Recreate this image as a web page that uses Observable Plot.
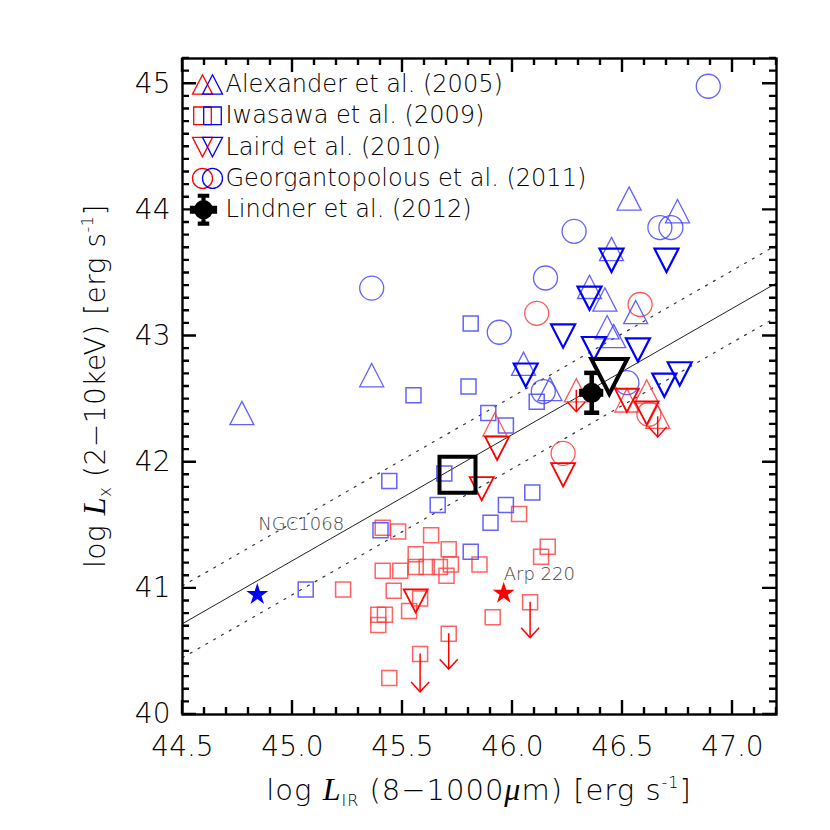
<!DOCTYPE html>
<html><head><meta charset="utf-8">
<script src="https://cdn.jsdelivr.net/npm/d3@7"></script>
<script src="https://cdn.jsdelivr.net/npm/@observablehq/plot@0.6"></script>
<style>
body{margin:0;background:#fff;}
#chart{width:830px;height:830px;}
</style></head><body><div id="chart"></div>
<script>
// ---------- data ----------
const alexBlueX = [44.77,45.36,46.53,46.75,46.45,46.35,46.42,46.56,46.43,46.46,46.05,46.17];
const alexBlueY = [42.39,42.69,44.09,43.99,43.69,43.39,43.29,43.19,43.07,43.00,42.78,42.58];
const alexRedX = [45.92,46.29,46.52,46.61,46.66];
const alexRedY = [42.30,42.57,42.49,42.56,42.36];
const iwaBlueX = [45.81,45.55,45.80,45.89,45.97,46.11,45.69,45.44,45.66,45.97,46.09,45.90,45.40,45.81,45.06];
const iwaBlueY = [43.10,42.53,42.60,42.39,42.29,42.48,41.91,41.85,41.66,41.66,41.76,41.52,41.46,41.29,40.99];
const iwaRedX = [46.03,46.16,46.13,45.41,45.48,45.63,45.71,45.56,45.41,45.49,45.56,45.61,45.67,45.72,45.70,45.85,45.23,45.46,45.58,45.53,45.39,45.42,45.39,46.08,45.91,45.71,45.58,45.44];
const iwaRedY = [41.59,41.33,41.25,41.48,41.45,41.42,41.31,41.27,41.14,41.14,41.17,41.17,41.17,41.19,41.10,41.19,40.99,40.98,40.92,40.82,40.79,40.79,40.71,40.89,40.77,40.64,40.48,40.29];
const lairdBlueX = [46.45,46.70,46.35,46.23,46.37,46.57,46.06,46.69,46.76];
const lairdBlueY = [43.60,43.60,43.30,43.00,42.90,42.89,42.69,42.61,42.70];
const lairdRedX = [45.93,45.86,46.23,46.52,46.61,45.56];
const lairdRedY = [42.11,41.79,41.90,42.49,42.39,40.90];
const georBlueX = [46.89,46.67,46.72,46.28,46.15,45.94,45.36,46.14,46.52];
const georBlueY = [44.98,43.86,43.86,43.83,43.46,43.03,43.38,42.56,42.63];
const georRedX = [46.11,46.58,46.62,46.23];
const georRedY = [43.18,43.25,42.38,42.07];
// upper limits (arrow start, arrow tip)
const limitX = [46.29,46.66,46.08,45.71,45.58];
const limitY = [42.57,42.36,40.89,40.64,40.48];
const limitTipY = [42.40,42.20,40.61,40.36,40.18];
// stacked points
const stackSquareX = [45.75], stackSquareY = [41.90];
const stackTriX = [46.44], stackTriY = [42.68];
// Lindner et al. (2012)
const lindX = [46.36], lindY = [42.55], lindXErr = [0.055], lindYErr = [0.158];
// named sources
const starNames = ["NGC1068", "Arp 220"];
const starX = [44.84, 45.96];
const starY = [40.95, 40.96];
const starColors = ["#0000ff", "#ff0000"];
// relation and its scatter
const fitX = [44.5, 47.2];
const fitY = [40.72, 43.42];
const fitUpperY = [41.02, 43.72];
const fitLowerY = [40.45, 43.15];
// ticks
const xMajor = [44.5, 45.0, 45.5, 46.0, 46.5, 47.0];
const yMajor = [40, 41, 42, 43, 44, 45];
const xMinor = d3.range(445, 473).map(v => v / 10);
const yMinor = d3.range(400, 453).map(v => v / 10);
const legendLabels = ["Alexander et al. (2005)", "Iwasawa et al. (2009)", "Laird et al. (2010)", "Georgantopolous et al. (2011)", "Lindner et al. (2012)"];

// ---------- helpers ----------
const pts = (xs, ys) => xs.map((x, i) => ({x, y: ys[i]}));
const rad = s => Math.sqrt(s / Math.PI);
const SQ = {draw(c, s) { const r = rad(s); c.rect(-r, -r, 2 * r, 2 * r); }};
const TU = {draw(c, s) { const r = rad(s), h = r * 0.97; c.moveTo(0, -h); c.lineTo(r, h); c.lineTo(-r, h); c.closePath(); }};
const TD = {draw(c, s) { const r = rad(s), h = r * 0.97; c.moveTo(-r, -h); c.lineTo(r, -h); c.lineTo(0, h); c.closePath(); }};
const CHEV = {draw(c, s) { const r = rad(s); c.moveTo(-r, -r * 1.1); c.lineTo(0, 0); c.lineTo(r, -r * 1.1); }};
const HBAR = {draw(c, s) { const r = rad(s); c.moveTo(-r, 0); c.lineTo(r, 0); }};
const LIND = {draw(c, s) {
  const r = rad(s);
  c.moveTo(r * 0.6, 0); c.arc(0, 0, r * 0.6, 0, 2 * Math.PI);
  c.rect(-0.13 * r, -r, 0.26 * r, 2 * r);
  c.rect(-0.36 * r, -r, 0.72 * r, 0.26 * r);
  c.rect(-0.36 * r, r - 0.26 * r, 0.72 * r, 0.26 * r);
  c.rect(-0.85 * r, -0.25 * r, 1.7 * r, 0.5 * r);
}};

const RED = "#ff0000", BLUE = "#0000ff";
const RED_L = "#ff3b3b", BLUE_L = "#4646ff";
const FONT = "DejaVu Sans";
const W = 300; // light text weight

const M = {top: 58, right: 54, bottom: 116, left: 182};

const fitRows = fitX.map((x, i) => ({x, y: fitY[i], up: fitUpperY[i], lo: fitLowerY[i]}));
const limits = limitX.map((x, i) => ({x, y: limitY[i], tip: limitTipY[i]}));
const lind = lindX.map((x, i) => ({x, y: lindY[i], xe: lindXErr[i], ye: lindYErr[i]}));
const stars = starNames.map((n, i) => ({name: n, x: starX[i], y: starY[i], c: starColors[i]}));

// ---------- legend marks ----------
const legendSyms = [
  [TU, TU, 10], [SQ, SQ, 8.8], [TD, TD, 10], ["circle", "circle", 10]
];
const LX = 20, LX2 = 30, LT = 43, LY0 = 26, LDY = 31.3;
const legendMarks = [];
legendSyms.forEach(([s1, s2, r], i) => {
  legendMarks.push(Plot.dot([0], {frameAnchor: "top-left", dx: LX, dy: LY0 + i * LDY, symbol: s1, r, stroke: RED, strokeWidth: 1.3, fill: "none"}));
  legendMarks.push(Plot.dot([0], {frameAnchor: "top-left", dx: LX2, dy: LY0 + i * LDY, symbol: s2, r, stroke: BLUE, strokeWidth: 1.3, fill: "none"}));
});
legendMarks.push(Plot.dot([0], {frameAnchor: "top-left", dx: LX + 1, dy: LY0 + 4 * LDY, symbol: LIND, r: 16, fill: "black", stroke: "none"}));
legendLabels.forEach((t, i) => {
  legendMarks.push(Plot.text([t], {frameAnchor: "top-left", dx: LT, dy: LY0 + i * LDY, text: d => d, textAnchor: "start", lineAnchor: "middle", fontSize: 24, fontWeight: W, fill: "black"}));
});

const chart = Plot.plot({
  width: 830, height: 830,
  marginLeft: M.left, marginRight: M.right, marginTop: M.top, marginBottom: M.bottom,
  x: {domain: [44.5, 47.2], axis: null},
  y: {domain: [40, 45.2], axis: null},
  style: {fontFamily: FONT, fontSize: "28px", background: "white", color: "black"},
  marks: [
    // relation
    Plot.line(fitRows, {x: "x", y: "y", stroke: "#222", strokeWidth: 1}),
    Plot.line(fitRows, {x: "x", y: "up", stroke: "#333", strokeWidth: 1.2, strokeDasharray: "2,7"}),
    Plot.line(fitRows, {x: "x", y: "lo", stroke: "#333", strokeWidth: 1.2, strokeDasharray: "2,7"}),
    // samples
    Plot.dot(pts(iwaRedX, iwaRedY), {x: "x", y: "y", symbol: SQ, r: 7.5, stroke: RED_L, strokeOpacity: 0.8, strokeWidth: 1.5, fill: "none"}),
    Plot.dot(pts(iwaBlueX, iwaBlueY), {x: "x", y: "y", symbol: SQ, r: 7.5, stroke: BLUE_L, strokeOpacity: 0.85, strokeWidth: 1.5, fill: "none"}),
    Plot.dot(pts(georRedX, georRedY), {x: "x", y: "y", symbol: "circle", r: 12, stroke: RED_L, strokeOpacity: 0.85, strokeWidth: 1.3, fill: "none"}),
    Plot.dot(pts(georBlueX, georBlueY), {x: "x", y: "y", symbol: "circle", r: 12, stroke: BLUE_L, strokeOpacity: 0.85, strokeWidth: 1.3, fill: "none"}),
    Plot.dot(pts(alexRedX, alexRedY), {x: "x", y: "y", symbol: TU, r: 12, stroke: RED_L, strokeOpacity: 0.85, strokeWidth: 1.3, fill: "none"}),
    Plot.dot(pts(alexBlueX, alexBlueY), {x: "x", y: "y", symbol: TU, r: 12, stroke: BLUE_L, strokeOpacity: 0.85, strokeWidth: 1.3, fill: "none"}),
    Plot.dot(pts(lairdRedX, lairdRedY), {x: "x", y: "y", symbol: TD, r: 12, stroke: RED, strokeWidth: 1.8, fill: "none"}),
    Plot.dot(pts(lairdBlueX, lairdBlueY), {x: "x", y: "y", symbol: TD, r: 12, stroke: BLUE, strokeWidth: 2.2, fill: "none"}),
    // upper limits
    Plot.ruleX(limits, {x: "x", y1: "y", y2: "tip", stroke: RED, strokeWidth: 1.5}),
    Plot.dot(limits, {x: "x", y: "tip", symbol: CHEV, r: 9, stroke: RED, strokeWidth: 1.5, fill: "none"}),
    // named sources
    Plot.dot(stars, {x: "x", y: "y", symbol: "star", r: 6.9, fill: "c", stroke: "none"}),
    Plot.text(stars.slice(0, 1), {x: "x", y: "y", text: "name", dx: 1, dy: -70, textAnchor: "start", fontSize: 18, fontWeight: W, fill: "#444"}),
    Plot.text(stars.slice(1, 2), {x: "x", y: "y", text: "name", dx: 0, dy: -19, textAnchor: "start", fontSize: 18, fontWeight: W, fill: "#444"}),
    // stacks
    Plot.dot(pts(stackSquareX, stackSquareY), {x: "x", y: "y", symbol: SQ, r: 18, stroke: "black", strokeWidth: 4, fill: "none"}),
    Plot.dot(pts(stackTriX, stackTriY), {x: "x", y: "y", symbol: TD, r: 18, stroke: "black", strokeWidth: 4, fill: "none"}),
    // Lindner
    Plot.ruleX(lind, {x: "x", y1: d => d.y - d.ye, y2: d => d.y + d.ye, stroke: "black", strokeWidth: 4.5}),
    Plot.dot(lind, {x: "x", y: d => d.y - d.ye, symbol: HBAR, r: 7.5, stroke: "black", strokeWidth: 4.5}),
    Plot.dot(lind, {x: "x", y: d => d.y + d.ye, symbol: HBAR, r: 7.5, stroke: "black", strokeWidth: 4.5}),
    Plot.ruleY(lind, {y: "y", x1: d => d.x - d.xe, x2: d => d.x + d.xe, stroke: "black", strokeWidth: 8}),
    Plot.dot(lind, {x: "x", y: "y", r: 10, fill: "black", stroke: "none"}),
    // legend
    ...legendMarks,
    // tick labels
    Plot.axisX(xMajor, {anchor: "bottom", tickSize: 0, tickPadding: 22, tickFormat: d3.format(".1f"), fontSize: 28, fontWeight: W, label: null}),
    Plot.axisY(yMajor, {anchor: "left", tickSize: 0, tickPadding: 12, tickFormat: d3.format("d"), fontSize: 28, fontWeight: W, label: null}),
    Plot.frame({stroke: "black", strokeWidth: 2.4})
  ]
});

document.getElementById("chart").appendChild(chart);

const svg = d3.select(chart);
const sx = chart.scale("x"), sy = chart.scale("y");
const xlo = Math.min(...sx.range), xhi = Math.max(...sx.range);
const ylo = Math.min(...sy.range), yhi = Math.max(...sy.range); // ylo = top, yhi = bottom
const xMid = (xlo + xhi) / 2, yMid = (ylo + yhi) / 2;

// inward ticks on all four sides, placed through Plot's own scales
const tickPath = [];
[[xMinor, 7], [xMajor, 14]].forEach(([vals, L]) => vals.forEach(v => {
  const px = sx.apply(v);
  tickPath.push(`M${px},${yhi}V${yhi - L}`, `M${px},${ylo}V${ylo + L}`);
}));
[[yMinor, 7], [yMajor, 14]].forEach(([vals, L]) => vals.forEach(v => {
  const py = sy.apply(v);
  tickPath.push(`M${xlo},${py}H${xlo + L}`, `M${xhi},${py}H${xhi - L}`);
}));
svg.append("path").attr("d", tickPath.join("")).attr("fill", "none")
  .attr("stroke", "#000").attr("stroke-width", 2.4);

// axis titles with italic / sub / superscripts
const ital = t => t.attr("font-family", "Liberation Serif").attr("font-style", "italic").attr("font-weight", 400).attr("font-size", 32);
const xt = svg.append("text").attr("x", xMid).attr("y", 800).attr("text-anchor", "middle")
  .attr("font-family", FONT).attr("font-weight", W).attr("font-size", 29).attr("letter-spacing", 1).attr("fill", "black");
xt.append("tspan").text("log ");
ital(xt.append("tspan")).text("L");
xt.append("tspan").attr("font-size", 16).attr("dy", 6).text("IR");
xt.append("tspan").attr("dy", -6).text(" (8\u22121000");
ital(xt.append("tspan")).text("\u03bc");
xt.append("tspan").text("m) [erg s");
xt.append("tspan").attr("font-size", 16).attr("dy", -12).text("-1");
xt.append("tspan").attr("dy", 12).text("]");

const yt = svg.append("text").attr("transform", `translate(105,${yMid}) rotate(-90)`).attr("text-anchor", "middle")
  .attr("font-family", FONT).attr("font-weight", W).attr("font-size", 28).attr("letter-spacing", 0.5).attr("fill", "black");
yt.append("tspan").text("log ");
ital(yt.append("tspan")).text("L");
yt.append("tspan").attr("font-size", 17).attr("dy", 6).text("x");
yt.append("tspan").attr("dy", -6).text(" (2\u221210keV) [erg s");
yt.append("tspan").attr("font-size", 16).attr("dy", -12).text("-1");
yt.append("tspan").attr("dy", 12).text("]");
</script>
</body></html>
